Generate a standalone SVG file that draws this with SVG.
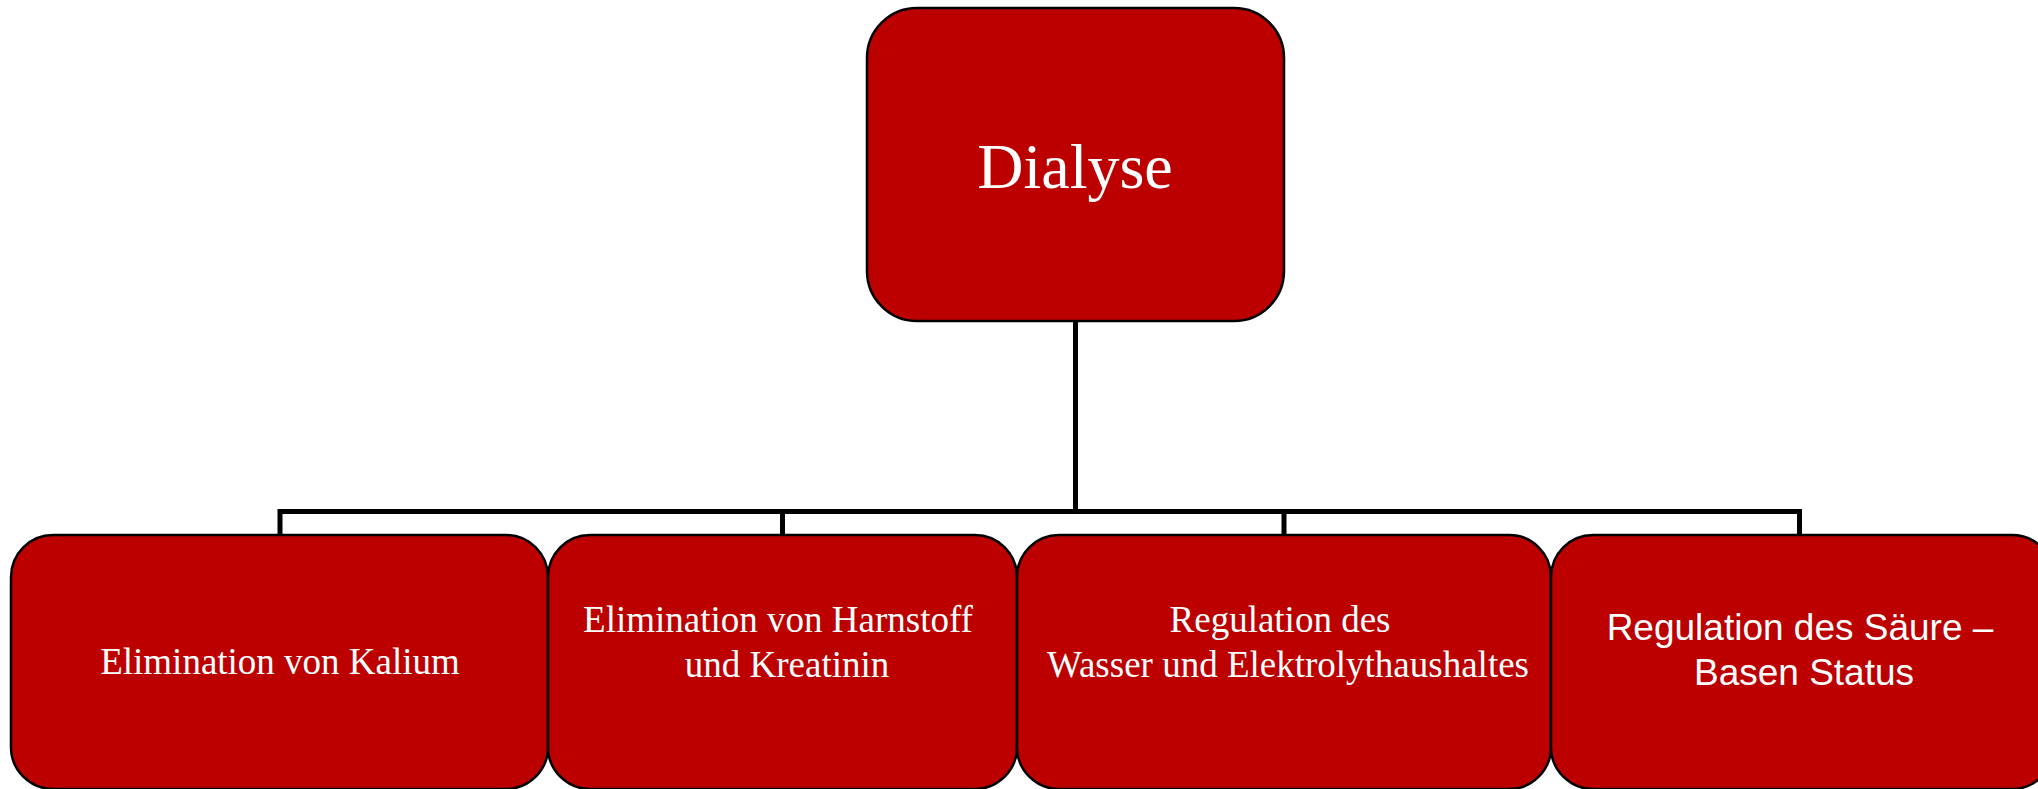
<svg xmlns="http://www.w3.org/2000/svg" width="2038" height="789" viewBox="0 0 2038 789">
<style>
.box{fill:#bc0000;stroke:#000;stroke-width:2.5}
.conn{fill:none;stroke:#000;stroke-width:5}
.t{fill:#fff;font-family:"Liberation Serif","Times New Roman",serif;text-anchor:middle}
.s{fill:#fff;font-family:"Liberation Sans",Arial,sans-serif;text-anchor:middle}
</style>
<rect width="2038" height="789" fill="#fff"/>
<g id="connectors">
<path class="conn" d="M1075.5 321 V511.5"/>
<path class="conn" d="M280 535 V511.5 H1799.5 V535"/>
<path class="conn" d="M782.5 535 V511.5"/>
<path class="conn" d="M1284 535 V511.5"/>
</g>
<g id="node-dialyse">
<rect class="box" x="867" y="8" width="417" height="313" rx="50" ry="50"/>
<text class="t" x="1075" y="188" font-size="64">Dialyse</text>
</g>
<g id="node-kalium">
<rect class="box" x="11" y="535" width="537" height="254" rx="42" ry="42"/>
<text class="t" x="280" y="674" font-size="37">Elimination von Kalium</text>
</g>
<g id="node-harnstoff">
<rect class="box" x="548" y="535" width="469" height="254" rx="42" ry="42"/>
<text class="t" x="778" y="632" font-size="37">Elimination von Harnstoff</text>
<text class="t" x="787" y="677" font-size="37">und Kreatinin</text>
</g>
<g id="node-wasser">
<rect class="box" x="1017" y="535" width="534" height="254" rx="42" ry="42"/>
<text class="t" x="1280" y="632" font-size="37">Regulation des</text>
<text class="t" x="1288" y="677" font-size="37">Wasser und Elektrolythaushaltes</text>
</g>
<g id="node-saeure">
<rect class="box" x="1551" y="535" width="503" height="254" rx="42" ry="42"/>
<text class="s" x="1800" y="640" font-size="37">Regulation des Säure –</text>
<text class="s" x="1804" y="685" font-size="37">Basen Status</text>
</g>
</svg>
